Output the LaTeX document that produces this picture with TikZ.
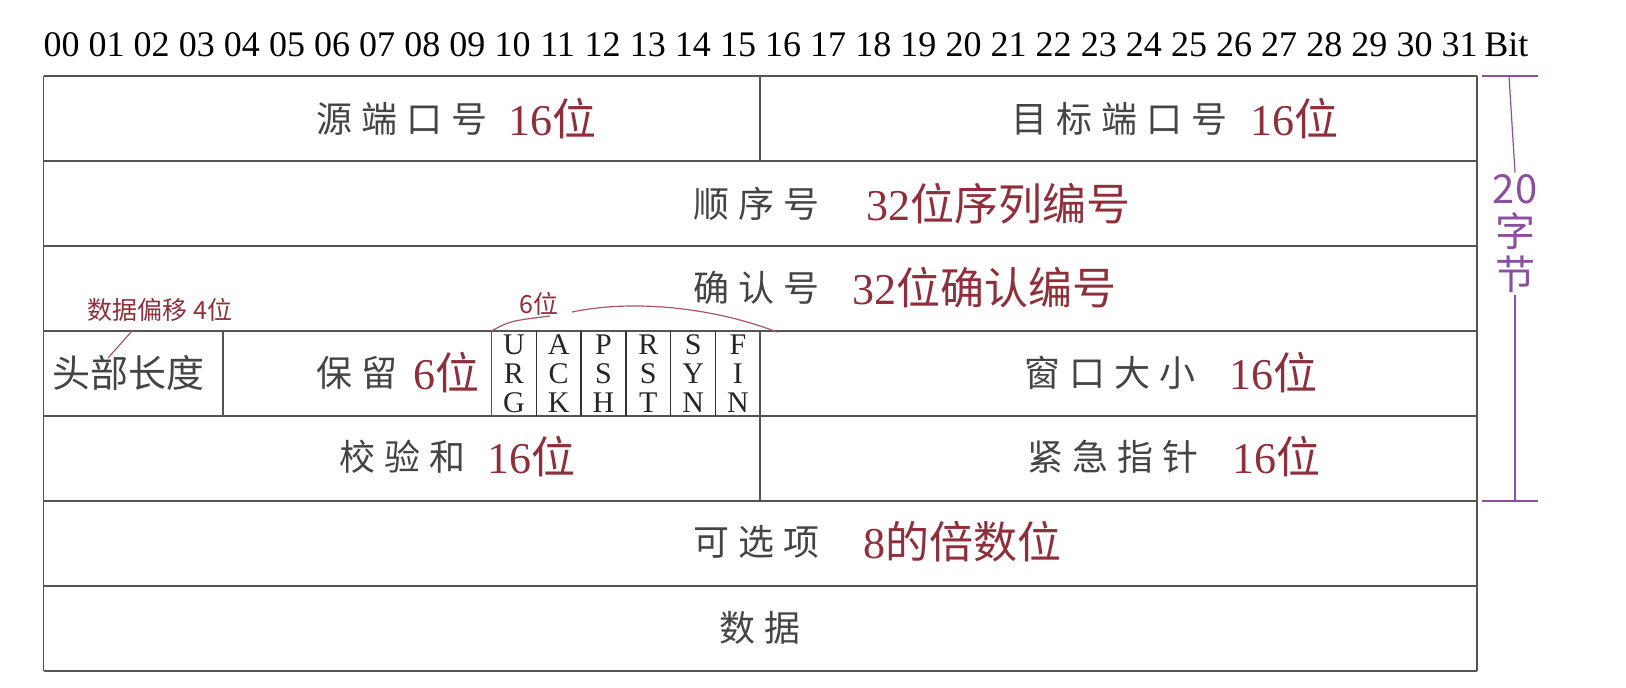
\documentclass[tikz,border=0pt]{standalone}
\usepackage{fontspec}
\setmainfont{Liberation Serif}
\newfontfamily\cjk{Noto Sans CJK SC}
\newfontfamily\cjkgap[LetterSpace=25]{Noto Sans CJK SC}
\usepackage{xcolor}
\definecolor{tcpgrey}{HTML}{444444}
\definecolor{tcpred}{HTML}{8E2F3B}
\definecolor{tcppurple}{HTML}{8A4F9E}
\definecolor{tcpline}{HTML}{555555}

\begin{document}
\begin{tikzpicture}[
    x=0.5pt, y=-0.5pt,
    hline/.style={draw=tcpline, line width=1.4pt},
    vline/.style={draw=tcpline, line width=0.9pt},
    fname/.style={anchor=west, inner sep=0pt, text=tcpgrey,
        font=\cjkgap\fontsize{18}{20}\selectfont},
    fbits/.style={anchor=west, inner sep=0pt, text=tcpred,
        font=\fontsize{22}{24}\selectfont},
    bitnum/.style={anchor=base, inner sep=0pt,
        font=\fontsize{18}{20}\selectfont},
    flag/.style={align=center, inner sep=0pt, text=black!85,
        font=\fontsize{15}{14.5}\selectfont},
    note/.style={inner sep=0pt, text=tcpred,
        font=\cjk\fontsize{12.5}{14}\selectfont},
    noteline/.style={draw=tcpred!80, line width=0.6pt},
    brace/.style={draw=tcppurple, line width=0.6pt},
]

\useasboundingbox (0,0) rectangle (1626,688);

% Bit numbers
\foreach \n in {0,...,31} {
    \node[bitnum] (b\n) at ({43.5+45.1*\n+18}, 57) {\ifnum\n<10 0\fi\n};
}
\node[bitnum, anchor=base west] (bitlbl) at (1484,57) {Bit};

% Table lines
\foreach \r in {0,...,7} {
    \draw[hline] (43.5,{76+85*\r}) -- (1477,{76+85*\r});
}
\draw[vline] (43.5,76) -- (43.5,671);
\draw[vline] (1477,76) -- (1477,671);
\draw[vline] (760.3,76) -- (760.3,161);
\draw[vline] (760.3,331) -- (760.3,501);
\draw[vline] (222.7,331) -- (222.7,416);
\draw[vline] (491.5,331) -- (491.5,416);
\foreach \k in {1,...,5} {
    \draw[vline, draw=black!80, line width=0.7pt] ({491.5+44.8*\k},331) -- ({491.5+44.8*\k},416);
}

% Row 1
\node[fname] (srcname) at (316,119) {源端口号};
\node[fbits] (srcbits) at (508,119) {16{\cjk 位}};
\node[fname] (dstname) at (1011,119) {目标端口号};
\node[fbits] (dstbits) at (1250,119) {16{\cjk 位}};

% Row 2
\node[fname] (seqname) at (693,204) {顺序号};
\node[fbits] (seqbits) at (866,204) {32{\cjk 位序列编号}};

% Row 3
\node[fname] (ackname) at (693,288) {确认号};
\node[fbits] (ackbits) at (852,288) {32{\cjk 位确认编号}};

% Row 4
\node[fname, font=\cjk\fontsize{19}{20}\selectfont] (hlen) at (52,373) {头部长度};
\node[fname] (rsvname) at (316,373) {保留};
\node[fbits] (rsvbits) at (413,373) {6{\cjk 位}};
\foreach \f [count=\k from 0] in {U\\R\\G, A\\C\\K, P\\S\\H, R\\S\\T, S\\Y\\N, F\\I\\N} {
    \node[flag] (flag\k) at ({491.5+44.8*(\k+0.5)},374) {\f};
}
\node[fname] (winname) at (1024,373) {窗口大小};
\node[fbits] (winbits) at (1229,373) {16{\cjk 位}};

% Row 5
\node[fname] (sumname) at (339,457) {校验和};
\node[fbits] (sumbits) at (487,457) {16{\cjk 位}};
\node[fname] (urgname) at (1027,457) {紧急指针};
\node[fbits] (urgbits) at (1232,457) {16{\cjk 位}};

% Row 6, 7
\node[fname] (optname) at (693,542) {可选项};
\node[fbits] (optbits) at (863,542) {8{\cjk 的倍数位}};
\node[fname] (dataname) at (719,628) {数据};

% Notes
\node[note] (offset) at (160,310) {数据偏移 4{\cjk 位}};
\coordinate (offA) at (132,331);
\coordinate (offB) at (108,358);
\draw[noteline] (offA) -- (offB);

\node[note] (sixbits) at (539,304) {6{\cjk 位}};
\coordinate (sixL) at (491.5,331);
\coordinate (sixM) at (550,316);
\coordinate (sixN) at (572,312);
\coordinate (sixR) at (777,332);
\draw[noteline] (sixL) .. controls (510,321) .. (sixM);
\draw[noteline] (sixN) .. controls (640,298) and (720,310) .. (sixR);

% 20 bytes bracket
\node[align=center, inner sep=1pt, text=tcppurple,
    font=\cjk\fontsize{20}{21.5}\selectfont] (bytes) at (1515,234) {20\\字\\节};
\coordinate (topL) at (1482,76);
\coordinate (topR) at (1538,76);
\coordinate (botL) at (1482,501);
\coordinate (botR) at (1538,501);
\draw[brace] (topL) -- (topR);
\draw[brace] (botL) -- (botR);
\draw[brace] (1509,76) -- (bytes.north);
\draw[brace] (bytes.south) -- (1515,501);

\end{tikzpicture}
\end{document}
